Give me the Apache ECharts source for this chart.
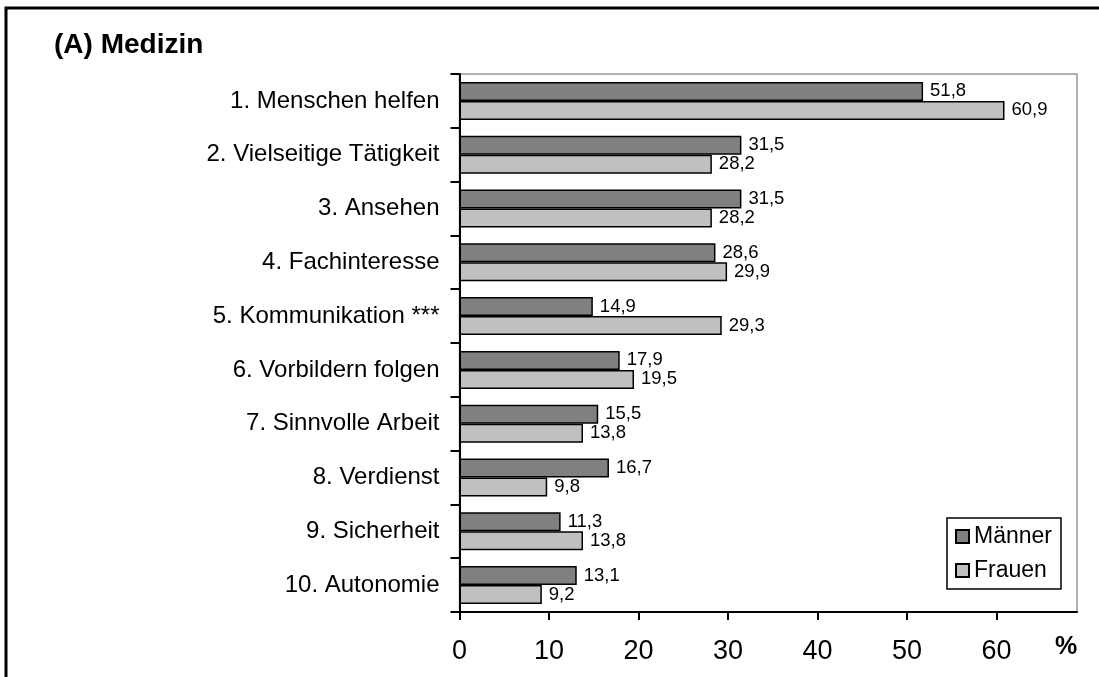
<!DOCTYPE html>
<html>
<head>
<meta charset="utf-8">
<script src="https://cdn.jsdelivr.net/npm/echarts@6/dist/echarts.min.js"></script>
<style>
html,body{margin:0;padding:0;background:#fff;}
#c{width:1099px;height:677px;}
</style>
</head>
<body>
<div id="c"></div>
<script>
const categories = ['1. Menschen helfen','2. Vielseitige Tätigkeit','3. Ansehen','4. Fachinteresse','5. Kommunikation ***','6. Vorbildern folgen','7. Sinnvolle Arbeit','8. Verdienst','9. Sicherheit','10. Autonomie'];
const maenner = [51.8, 31.5, 31.5, 28.6, 14.9, 17.9, 15.5, 16.7, 11.3, 13.1];
const frauen = [60.9, 28.2, 28.2, 29.9, 29.3, 19.5, 13.8, 9.8, 13.8, 9.2];
const xTicks = [0, 10, 20, 30, 40, 50, 60];

const FONT = 'Liberation Sans, Arial, sans-serif';
const chart = echarts.init(document.getElementById('c'), null, {renderer: 'canvas'});
const fmt = p => String(p.value).replace('.', ',');
const labelCfg = {show: true, position: 'right', distance: 7, formatter: fmt, color: '#000', fontSize: 18.5, fontFamily: FONT};

chart.setOption({
  animation: false,
  backgroundColor: '#fff',
  textStyle: {fontFamily: FONT},
  title: {text: '(A) Medizin', left: 49, top: 26, textStyle: {fontSize: 28, fontWeight: 'bold', color: '#000', fontFamily: FONT}},
  grid: {left: 459.5, right: 22, top: 74, bottom: 65, show: true, borderColor: '#999', borderWidth: 1.5, backgroundColor: 'transparent'},
  legend: {
    orient: 'vertical', left: 947, top: 518, padding: [7, 9, 7, 8],
    borderColor: '#000', borderWidth: 1.5, backgroundColor: '#fff',
    itemWidth: 13, itemHeight: 13, itemGap: 11,
    icon: 'rect',
    textStyle: {fontSize: 23, color: '#000', fontFamily: FONT, lineHeight: 22},
    data: ['Männer', 'Frauen']
  },
  xAxis: {
    type: 'value', min: 0, max: 69, interval: 10,
    splitLine: {show: false},
    axisLine: {show: true, lineStyle: {color: '#000', width: 2}},
    axisTick: {show: true, inside: false, length: 8, lineStyle: {color: '#000', width: 2}, customValues: xTicks},
    axisLabel: {fontSize: 27, color: '#000', margin: 26, fontFamily: FONT, customValues: xTicks}
  },
  yAxis: {
    type: 'category', data: categories, inverse: true,
    axisLine: {show: true, lineStyle: {color: '#000', width: 2}},
    axisTick: {show: true, inside: false, length: 9, alignWithLabel: false, lineStyle: {color: '#000', width: 2}},
    axisLabel: {fontSize: 24, color: '#000', margin: 20, fontFamily: FONT}
  },
  series: [
    {name: 'Männer', type: 'bar', data: maenner, barWidth: 19, barGap: '0%', barCategoryGap: '28%',
     itemStyle: {color: '#808080', borderColor: '#000', borderWidth: 1.5}, label: labelCfg},
    {name: 'Frauen', type: 'bar', data: frauen, barWidth: 19, barGap: '0%',
     itemStyle: {color: '#c0c0c0', borderColor: '#000', borderWidth: 1.5}, label: labelCfg}
  ],
  graphic: [
    {type: 'rect', shape: {x: 6, y: 8, width: 1200, height: 800}, style: {fill: 'none', stroke: '#000', lineWidth: 3}, silent: true, z: 100},
    {type: 'text', x: 1066, y: 647, style: {text: '%', font: 'bold 25px ' + FONT, fill: '#000', textAlign: 'center', textVerticalAlign: 'middle'}, silent: true}
  ]
});
</script>
</body>
</html>
